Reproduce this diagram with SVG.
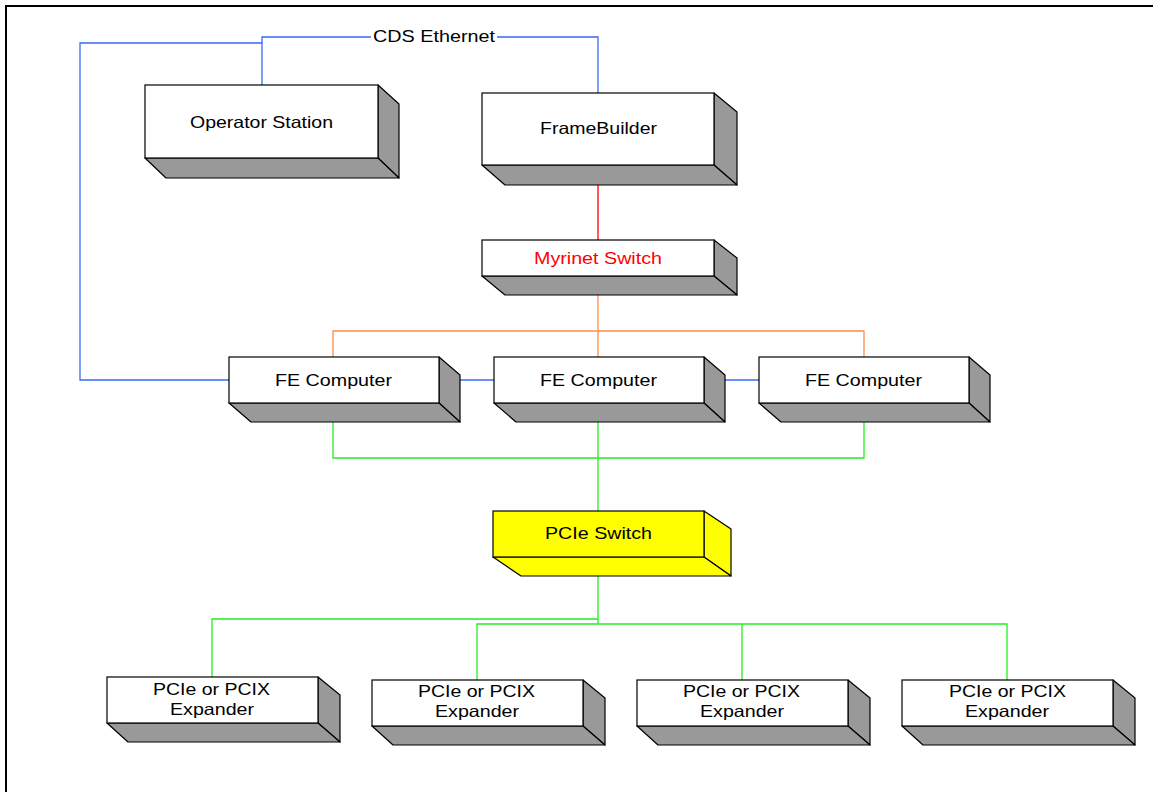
<svg xmlns="http://www.w3.org/2000/svg" width="1153" height="792" viewBox="0 0 1153 792">
<style>
.front{fill:#fff;stroke:#000;stroke-width:1.2}
.side{fill:#999;stroke:#000;stroke-width:1.2;stroke-linejoin:round}
.yf{fill:#ff0;stroke:#000;stroke-width:1.2}
.ys{fill:#ff0;stroke:#000;stroke-width:1.2;stroke-linejoin:round}
.t{font-family:"Liberation Sans",Arial,sans-serif;font-size:16.5px;fill:#000;text-anchor:middle}
.blue{stroke:#3a6af5;stroke-width:1.3;fill:none}
.red{stroke:#f00;stroke-width:1.3;fill:none}
.orange{stroke:#ff8a4a;stroke-width:1.3;fill:none}
.green{stroke:#22ee22;stroke-width:1.3;fill:none}
</style>
<rect width="1153" height="792" fill="#fff"/>
<rect x="6" y="6" width="1170" height="820" fill="none" stroke="#000" stroke-width="2"/>
<g id="connectors">
<polyline class="blue" points="229,380 80,380 80,43 262,43 262,85"/>
<polyline class="blue" points="262,43 262,37 371,37"/>
<polyline class="blue" points="497,37 598,37 598,93"/>
<line class="blue" x1="439" y1="380" x2="494" y2="380"/>
<line class="blue" x1="704" y1="380" x2="759" y2="380"/>
<line class="red" x1="598" y1="165" x2="598" y2="240"/>
<line class="orange" x1="598" y1="276" x2="598" y2="357"/>
<polyline class="orange" points="333,357 333,331 864,331 864,357"/>
<polyline class="green" points="333,403 333,458 864,458 864,403"/>
<line class="green" x1="598" y1="403" x2="598" y2="511"/>
<line class="green" x1="598" y1="557" x2="598" y2="624"/>
<polyline class="green" points="598,619 212,619 212,677"/>
<polyline class="green" points="477,680 477,624 1007,624 1007,680"/>
<line class="green" x1="742" y1="624" x2="742" y2="680"/>
<text class="t" x="434" y="42" textLength="122" lengthAdjust="spacingAndGlyphs">CDS Ethernet</text>
</g>
<g id="operator-station">
<polygon class="side" points="378,85 399,104 399,178 378,158"/>
<polygon class="side" points="145,158 378,158 399,178 166,178"/>
<rect class="front" x="145" y="85" width="233" height="73"/>
<text class="t" x="261.5" y="128" textLength="143" lengthAdjust="spacingAndGlyphs">Operator Station</text>
</g>
<g id="framebuilder">
<polygon class="side" points="714,93 737,112 737,185 714,165"/>
<polygon class="side" points="482,165 714,165 737,185 505,185"/>
<rect class="front" x="482" y="93" width="232" height="72"/>
<text class="t" x="598.5" y="134" textLength="117" lengthAdjust="spacingAndGlyphs">FrameBuilder</text>
</g>
<g id="myrinet-switch">
<polygon class="side" points="714,240 737,258 737,295 714,276"/>
<polygon class="side" points="482,276 714,276 737,295 505,295"/>
<rect class="front" x="482" y="240" width="232" height="36"/>
<text class="t" x="598" y="264" textLength="128" lengthAdjust="spacingAndGlyphs" style="fill:#f00">Myrinet Switch</text>
</g>
<g id="fe-computer-1">
<polygon class="side" points="439,357 460,375 460,422 439,403"/>
<polygon class="side" points="229,403 439,403 460,422 251,422"/>
<rect class="front" x="229" y="357" width="210" height="46"/>
<text class="t" x="333.5" y="386" textLength="117" lengthAdjust="spacingAndGlyphs">FE Computer</text>
</g>
<g id="fe-computer-2">
<polygon class="side" points="704,357 725,375 725,422 704,403"/>
<polygon class="side" points="494,403 704,403 725,422 516,422"/>
<rect class="front" x="494" y="357" width="210" height="46"/>
<text class="t" x="598.5" y="386" textLength="117" lengthAdjust="spacingAndGlyphs">FE Computer</text>
</g>
<g id="fe-computer-3">
<polygon class="side" points="969,357 990,375 990,422 969,403"/>
<polygon class="side" points="759,403 969,403 990,422 781,422"/>
<rect class="front" x="759" y="357" width="210" height="46"/>
<text class="t" x="863.5" y="386" textLength="117" lengthAdjust="spacingAndGlyphs">FE Computer</text>
</g>
<g id="pcie-switch">
<polygon class="ys" points="704,511 731,529 731,576 704,557"/>
<polygon class="ys" points="493,557 704,557 731,576 521,576"/>
<rect class="yf" x="493" y="511" width="211" height="46"/>
<text class="t" x="598.5" y="539" textLength="107" lengthAdjust="spacingAndGlyphs">PCIe Switch</text>
</g>
<g id="expander-1">
<polygon class="side" points="318,677 340,695 340,742 318,723"/>
<polygon class="side" points="107,723 318,723 340,742 128,742"/>
<rect class="front" x="107" y="677" width="211" height="46"/>
<text class="t" x="211.5" y="695" textLength="117" lengthAdjust="spacingAndGlyphs">PCIe or PCIX</text>
<text class="t" x="212" y="715" textLength="84" lengthAdjust="spacingAndGlyphs">Expander</text>
</g>
<g id="expander-2">
<polygon class="side" points="583,680 605,698 605,745 583,726"/>
<polygon class="side" points="372,726 583,726 605,745 393,745"/>
<rect class="front" x="372" y="680" width="211" height="46"/>
<text class="t" x="476.5" y="697" textLength="117" lengthAdjust="spacingAndGlyphs">PCIe or PCIX</text>
<text class="t" x="477" y="717" textLength="84" lengthAdjust="spacingAndGlyphs">Expander</text>
</g>
<g id="expander-3">
<polygon class="side" points="848,680 870,698 870,745 848,726"/>
<polygon class="side" points="637,726 848,726 870,745 658,745"/>
<rect class="front" x="637" y="680" width="211" height="46"/>
<text class="t" x="741.5" y="697" textLength="117" lengthAdjust="spacingAndGlyphs">PCIe or PCIX</text>
<text class="t" x="742" y="717" textLength="84" lengthAdjust="spacingAndGlyphs">Expander</text>
</g>
<g id="expander-4">
<polygon class="side" points="1113,680 1135,698 1135,745 1113,726"/>
<polygon class="side" points="902,726 1113,726 1135,745 923,745"/>
<rect class="front" x="902" y="680" width="211" height="46"/>
<text class="t" x="1007.5" y="697" textLength="117" lengthAdjust="spacingAndGlyphs">PCIe or PCIX</text>
<text class="t" x="1007" y="717" textLength="84" lengthAdjust="spacingAndGlyphs">Expander</text>
</g>
</svg>
